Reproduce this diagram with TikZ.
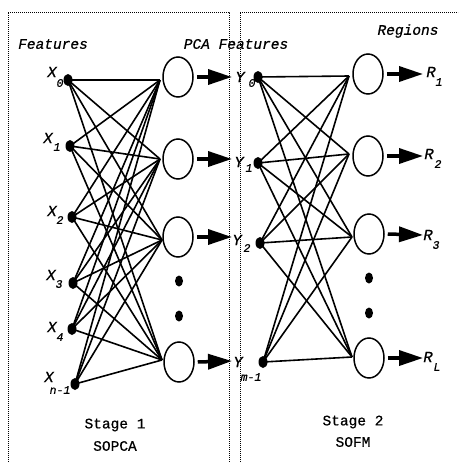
\documentclass[tikz,border=0pt]{standalone}
\usepackage{fontspec}
\newfontfamily\cour[FakeBold=0.6]{Liberation Mono}
\usetikzlibrary{arrows.meta,shapes.geometric}
\begin{document}
\begin{tikzpicture}[x=1pt,y=-1pt,
  conn/.style={line width=1.6pt},
  neuron/.style={draw,line width=1.5pt,ellipse,minimum width=30pt,minimum height=40pt,inner sep=0pt},
  blob/.style={fill,ellipse,minimum width=9pt,minimum height=12pt,inner sep=0pt},
  vdot/.style={fill,ellipse,minimum width=8pt,minimum height=11pt,inner sep=0pt},
  outarrow/.style={line width=3.5pt,-{Triangle[length=24pt,width=15pt]}},
  frame/.style={line width=1pt,dash pattern=on 1pt off 1pt},
  big/.style={inner sep=0pt,font=\cour\fontsize{15.5}{15.5}\selectfont\itshape},
  sub/.style={inner sep=0pt,font=\cour\fontsize{11.5}{11.5}\selectfont\itshape},
  title/.style={inner sep=0pt,font=\cour\fontsize{14.5}{14.5}\selectfont\itshape},
  stage/.style={inner sep=0pt,font=\cour\fontsize{14.5}{14.5}\selectfont}]
\useasboundingbox (0,0) rectangle (458,463);
\clip (0,0) rectangle (458,463);
% frames
\draw[frame] (8,470) -- (8,12) -- (229,12) -- (229,470);
\draw[frame] (240,470) -- (240,12) -- (470,12);
% titles
\node[title] (tf) at (53,44) {Features};
\node[title] (tp) at (236,44) {PCA Features};
\node[title] (tr) at (408,31) {Regions};
% input dots
\node[blob] (x0) at (68,80) {};
\node[blob] (x1) at (70,146) {};
\node[blob] (x2) at (72,217) {};
\node[blob] (x3) at (73,283) {};
\node[blob] (x4) at (72,329) {};
\node[blob] (x5) at (75,384) {};
% stage 1 neurons
\node[neuron] (a1) at (178,77) {};
\node[neuron] (a2) at (178,159) {};
\node[neuron] (a3) at (178,237) {};
\node[neuron] (a4) at (179,362) {};
\coordinate (ia1) at (160,80);
\coordinate (ia2) at (160,159);
\coordinate (ia3) at (162,240);
\coordinate (ia4) at (162,360);
\node[vdot] (da1) at (179,281) {};
\node[vdot] (da2) at (179,316) {};
% Y dots
\node[blob] (y0) at (258,77) {};
\node[blob] (y1) at (258,163) {};
\node[blob] (y2) at (260,243) {};
\node[blob] (y3) at (263,362) {};
% stage 2 neurons
\node[neuron] (b1) at (368,74) {};
\node[neuron] (b2) at (368,156) {};
\node[neuron] (b3) at (369,234) {};
\node[neuron] (b4) at (369,358) {};
\coordinate (ib1) at (349,76);
\coordinate (ib2) at (349,154);
\coordinate (ib3) at (352,237);
\coordinate (ib4) at (352,357);
\node[vdot] (db1) at (369,278) {};
\node[vdot] (db2) at (369,313) {};
% connections stage 1
\foreach \i in {0,...,5}{
  \foreach \j in {1,...,4}{
    \draw[conn] (x\i.center) -- (ia\j);
  }
}
% connections stage 2
\foreach \i in {0,...,3}{
  \foreach \j in {1,...,4}{
    \draw[conn] (y\i.center) -- (ib\j);
  }
}
% output arrows stage 1
\coordinate (ta1) at (232,77);
\coordinate (ta2) at (232,159);
\coordinate (ta3) at (232,237);
\coordinate (ta4) at (232,361);
\foreach \j in {1,...,4}{
  \draw[outarrow] (a\j.east) ++(3,0) coordinate (sa\j) -- (ta\j);
}
% output arrows stage 2
\coordinate (tb1) at (423,74);
\coordinate (tb2) at (423,156);
\coordinate (tb3) at (423,235);
\coordinate (tb4) at (423,358);
\foreach \j in {1,...,4}{
  \draw[outarrow] (b\j.east) ++(3,0) coordinate (sb\j) -- (tb\j);
}
% X labels
\node[big] (lx0) at (52,72) {X};  \node[sub] (sx0) at (60,83) {0};
\node[big] (lx1) at (48,138) {X}; \node[sub] (sx1) at (57,147) {1};
\node[big] (lx2) at (52,211) {X}; \node[sub] (sx2) at (60,220) {2};
\node[big] (lx3) at (51,275) {X}; \node[sub] (sx3) at (59,284) {3};
\node[big] (lx4) at (52,327) {X}; \node[sub] (sx4) at (60,337) {4};
\node[big] (lx5) at (49,377) {X}; \node[sub] (sx5) at (60,390) {n-1};
% Y labels
\node[big] (ly0) at (240,77) {Y};  \node[sub] (sy0) at (252,83) {0};
\node[big] (ly1) at (239,162) {Y}; \node[sub] (sy1) at (249,168) {1};
\node[big] (ly2) at (237,240) {Y}; \node[sub] (sy2) at (247,248) {2};
\node[big] (ly3) at (238,362) {Y}; \node[sub] (sy3) at (251,377) {m-1};
% R labels
\node[big] (lr1) at (431,72) {R};  \node[sub] (sr1) at (439,82) {1};
\node[big] (lr2) at (429,154) {R}; \node[sub] (sr2) at (438,164) {2};
\node[big] (lr3) at (428,235) {R}; \node[sub] (sr3) at (436,245) {3};
\node[big] (lr4) at (428,357) {R}; \node[sub] (sr4) at (437,367) {L};
% stage texts
\node[stage] (s1a) at (115,425) {Stage 1};
\node[stage] (s1b) at (115,446) {SOPCA};
\node[stage] (s2a) at (353,422) {Stage 2};
\node[stage] (s2b) at (353,442) {SOFM};
\end{tikzpicture}
\end{document}
